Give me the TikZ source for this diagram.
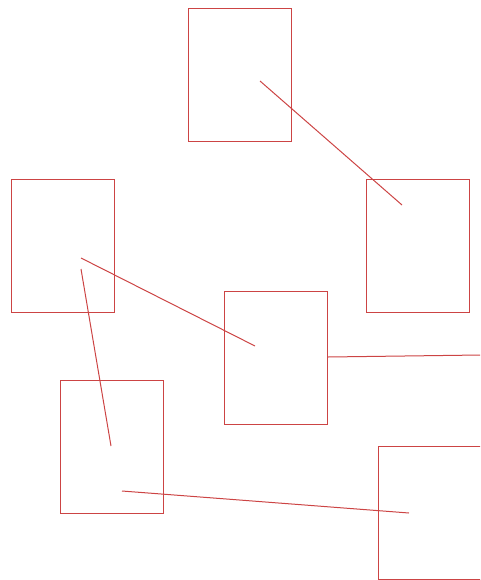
\documentclass[tikz,border=0pt]{standalone}
\usepackage{tikz}
\definecolor{edgered}{RGB}{204,68,68}

\begin{document}
\begin{tikzpicture}[
  x=1pt, y=-1pt,
  box/.style={
    draw=edgered, line width=1pt, inner sep=0pt,
    minimum width=103pt, minimum height=133pt
  },
  link/.style={draw=edgered, line width=1pt}
]
  \useasboundingbox (0,0) rectangle (480,580);
  \clip (0,0) rectangle (480,580);

  % boxes
  \node[box] (top)   at (240,75.5)   {};
  \node[box] (left)  at (62.5,245.5) {};
  \node[box] (right) at (417.5,245.5) {};
  \node[box] (mid)   at (276,357.5)  {};
  \node[box] (low)   at (111.5,446.5) {};
  \node[box] (far)   at (429.5,513)  {};

  % end points of the links
  \coordinate (topIn)   at (260,81);
  \coordinate (rightIn) at (402,205);
  \coordinate (leftA)   at (81,258);
  \coordinate (leftB)   at (81,269);
  \coordinate (midIn)   at (255,346);
  \coordinate (lowIn)   at (111,446);
  \coordinate (lowOut)  at (122,491);
  \coordinate (farIn)   at (409,513);
  \coordinate (offEdge) at (481,355);

  \draw[link] (topIn) -- (rightIn);
  \draw[link] (leftA) -- (midIn);
  \draw[link] (leftB) -- (lowIn);
  \draw[link] (mid.east |- 0,357) -- (offEdge);
  \draw[link] (lowOut) -- (farIn);
\end{tikzpicture}
\end{document}
